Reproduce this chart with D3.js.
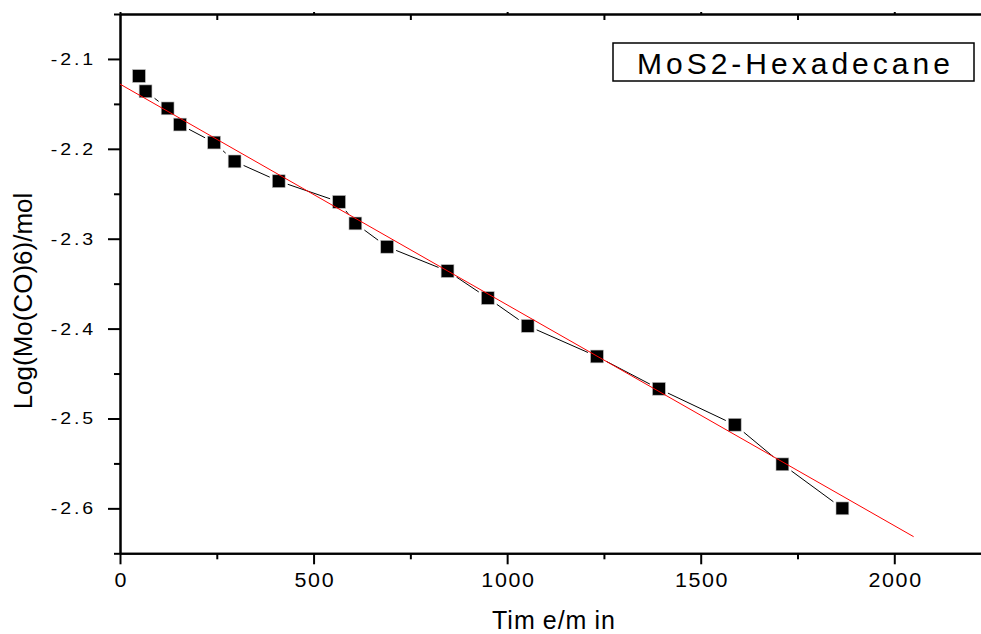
<!DOCTYPE html>
<html>
<head>
<meta charset="utf-8">
<script src="https://cdn.jsdelivr.net/npm/d3@7"></script>
<style>
  body { margin: 0; background: #fff; }
  svg { display: block; font-family: "Liberation Sans", Arial, sans-serif; }
</style>
</head>
<body>
<svg id="chart" width="981" height="634"></svg>
<script>
// values
const timeMin = [49, 66, 123, 155, 243, 296, 410, 566, 608, 690, 846, 950, 1053, 1232, 1392, 1588, 1711, 1866];
const logConc = [-2.119, -2.136, -2.155, -2.173, -2.193, -2.214, -2.236, -2.259, -2.283, -2.309, -2.336, -2.366, -2.397, -2.431, -2.467, -2.507, -2.551, -2.600];
const fitTime = [0, 2050];
const fitLog = [-2.128, -2.6315];
const xTicks = [0, 500, 1000, 1500, 2000];
const xMinorTicks = [250, 750, 1250, 1750];
const yTicks = [-2.1, -2.2, -2.3, -2.4, -2.5, -2.6];
const yMinorTicks = [-2.05, -2.15, -2.25, -2.35, -2.45, -2.55, -2.65];
const legendLabel = "MoS2-Hexadecane";

const svg = d3.select("#chart");

const x = d3.scaleLinear().domain([0, 2224]).range([120, 981]);
const y = d3.scaleLinear().domain([-2.65, -2.05]).range([553.3, 14]);

// tick labels in the original are drawn a bit wide and spaced
const xLabelStretch = 1.1;
const yLabelStretch = 1.15;

function styleAxis(g) {
    g.select(".domain").attr("stroke-width", 2);
    g.selectAll(".tick line").attr("stroke-width", 2);
}

// bottom axis
svg.append("g")
    .attr("transform", `translate(0,${y(-2.65)})`)
    .call(d3.axisBottom(x).tickValues(xMinorTicks).tickSize(6).tickSizeOuter(0).tickFormat(""))
    .call(styleAxis);

svg.append("g")
    .attr("transform", `translate(0,${y(-2.65)})`)
    .call(d3.axisBottom(x).tickValues(xTicks).tickSize(11).tickSizeOuter(0).tickPadding(9).tickFormat(d3.format("d")))
    .call(styleAxis)
    .call(g => g.selectAll("text")
        .attr("font-size", 19.5)
        .attr("font-family", "Liberation Sans, Arial, sans-serif")
        .attr("letter-spacing", 1.5)
        .attr("dx", 0.75)
        .attr("transform", `scale(${xLabelStretch},1)`)
        .attr("fill", "#000"));

// top axis
svg.append("g")
    .attr("transform", `translate(0,${y(-2.05)})`)
    .call(d3.axisTop(x).tickValues(xMinorTicks).tickSize(-6).tickSizeOuter(0).tickFormat(""))
    .call(styleAxis);

svg.append("g")
    .attr("transform", `translate(0,${y(-2.05)})`)
    .call(d3.axisTop(x).tickValues(xTicks).tickSize(2).tickSizeOuter(0).tickFormat(""))
    .call(styleAxis);

// left axis
svg.append("g")
    .attr("transform", `translate(${x(0)},0)`)
    .call(d3.axisLeft(y).tickValues(yMinorTicks).tickSize(6).tickSizeOuter(0).tickFormat(""))
    .call(styleAxis);

svg.append("g")
    .attr("transform", `translate(${x(0)},0)`)
    .call(d3.axisLeft(y).tickValues(yTicks).tickSize(12).tickSizeOuter(0).tickFormat(d3.format(".1f")))
    .call(styleAxis)
    .call(g => g.selectAll("text")
        .attr("font-size", 17)
        .attr("font-family", "Liberation Sans, Arial, sans-serif")
        .attr("letter-spacing", 2.5)
        .text(d => "-" + Math.abs(d).toFixed(1))
        .attr("x", -24 / yLabelStretch)
        .attr("transform", `scale(${yLabelStretch},1)`)
        .attr("fill", "#000"));

// data line with small gaps round markers
const points = timeMin.map((t, i) => [t, logConc[i]]);

svg.append("path")
    .datum(points)
    .attr("fill", "none")
    .attr("stroke", "#000")
    .attr("stroke-width", 1)
    .attr("d", d3.line().x(d => x(d[0])).y(d => y(d[1])));

svg.append("g")
    .selectAll("rect")
    .data(points)
    .join("rect")
    .attr("x", d => x(d[0]) - 9)
    .attr("y", d => y(d[1]) - 9)
    .attr("width", 18)
    .attr("height", 18)
    .attr("fill", "#fff");

svg.append("g")
    .selectAll("rect")
    .data(points)
    .join("rect")
    .attr("x", d => x(d[0]) - 6.4)
    .attr("y", d => y(d[1]) - 6.4)
    .attr("width", 12.8)
    .attr("height", 12.8)
    .attr("fill", "#000")
    .attr("stroke", "#bbb")
    .attr("stroke-width", 0.6);

// linear fit
svg.append("path")
    .datum(fitTime.map((t, i) => [t, fitLog[i]]))
    .attr("fill", "none")
    .attr("stroke", "#ff0000")
    .attr("stroke-width", 1)
    .attr("d", d3.line().x(d => x(d[0])).y(d => y(d[1])));

// axis titles
svg.append("text")
    .attr("transform", "translate(32,301) rotate(-90)")
    .attr("text-anchor", "middle")
    .attr("font-size", 26)
    .text("Log(Mo(CO)6)/mol");

const xTitle = svg.append("text")
    .attr("x", 492)
    .attr("y", 629)
    .attr("font-size", 25)
    .attr("letter-spacing", 1);
xTitle.append("tspan").text("Tim");
xTitle.append("tspan").attr("dx", 7).text("e/m");
xTitle.append("tspan").attr("dx", 7).text("in");

// legend
const legend = svg.append("g");

legend.append("rect")
    .attr("x", 613)
    .attr("y", 43)
    .attr("width", 361)
    .attr("height", 38)
    .attr("fill", "#fff")
    .attr("stroke", "#000")
    .attr("stroke-width", 1.5);

legend.append("text")
    .attr("x", 637)
    .attr("y", 74)
    .attr("font-size", 30)
    .attr("letter-spacing", 4)
    .text(legendLabel);
</script>
</body>
</html>
